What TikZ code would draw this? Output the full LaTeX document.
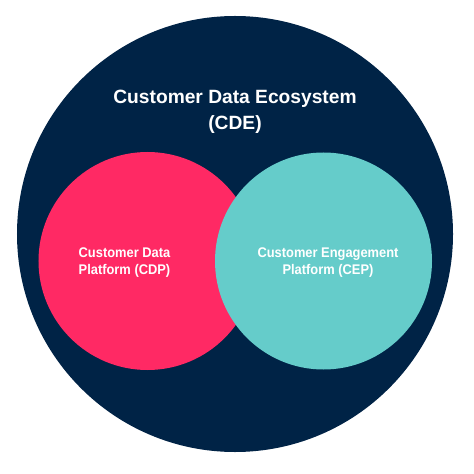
\documentclass[tikz,border=0pt]{standalone}
\usepackage{fontspec}
\setmainfont{Liberation Sans}
\newfontfamily\narrowfont[FakeStretch=0.92]{Liberation Sans}
\definecolor{navy}{RGB}{0,35,70}
\definecolor{cdppink}{RGB}{255,41,100}
\definecolor{cepteal}{RGB}{101,204,202}
\begin{document}
\begin{tikzpicture}[x=1bp,y=-1bp,
  title/.style={text=white,font=\fontsize{19.2bp}{26bp}\selectfont\bfseries,align=center,anchor=base},
  inner/.style={text=white,font=\narrowfont\fontsize{14bp}{17bp}\selectfont\bfseries,align=center,anchor=base}]
\useasboundingbox (0,0) rectangle (474,474);
\fill[white] (0,0) rectangle (474,474);
\node[circle,fill=navy,minimum size=436bp,inner sep=0pt] (cde) at (235,234) {};
\node[circle,fill=cdppink,minimum size=218bp,inner sep=0pt] (cdp) at (147.5,261) {};
\node[circle,fill=cepteal,minimum size=217bp,inner sep=0pt] (cep) at (323.5,261) {};
\node[title] (t1) at (235,104) {Customer Data Ecosystem};
\node[title] (t2) at (235,130) {(CDE)};
\node[inner] (c1) at (124.5,257) {Customer Data};
\node[inner] (c2) at (124.5,274) {Platform (CDP)};
\node[inner] (e1) at (328,257) {Customer Engagement};
\node[inner] (e2) at (328,274) {Platform (CEP)};
\end{tikzpicture}
\end{document}
